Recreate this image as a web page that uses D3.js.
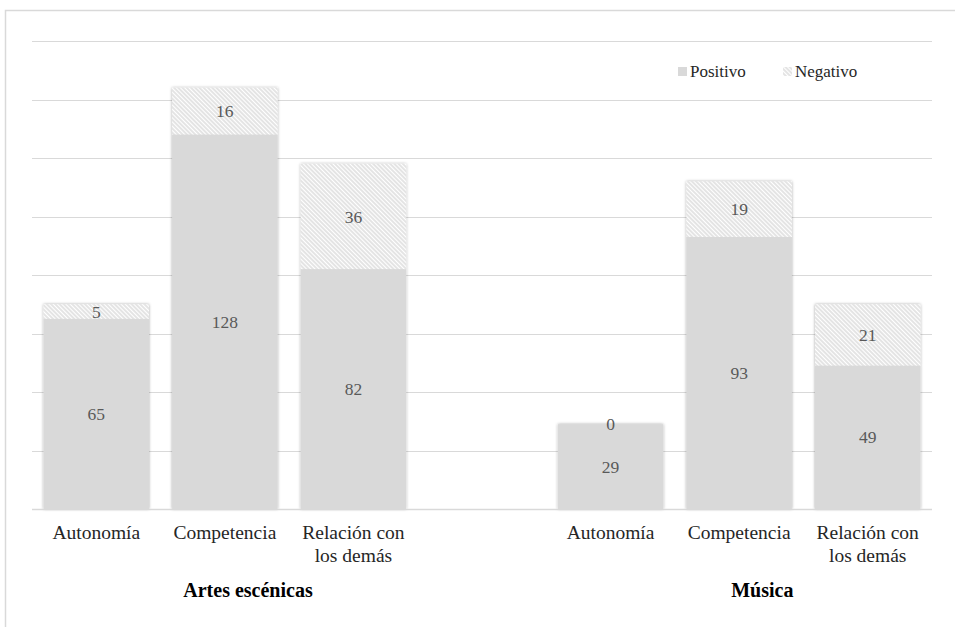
<!DOCTYPE html>
<html>
<head>
<meta charset="utf-8">
<script src="https://cdn.jsdelivr.net/npm/d3@7"></script>
</head>
<body style="margin:0">
<svg width="955" height="627"></svg>
<script>
var categories = ["Autonomía", "Competencia", "Relación con los demás"];
var groups = ["Artes escénicas", "Música"];
var positivo = [65, 128, 82, 29, 93, 49];
var negativo = [5, 16, 36, 0, 19, 21];
var yTicks = [0, 20, 40, 60, 80, 100, 120, 140, 160];
var seriesNames = ["Positivo", "Negativo"];

var FONT = "Liberation Serif";

var svg = d3.select("svg"),
    width = +svg.attr("width"),
    height = +svg.attr("height");

// slots: 3 bars, one empty slot, 3 bars
var slots = ["a0", "a1", "a2", "gap", "m0", "m1", "m2"];
var rows = [];
groups.forEach(function (g, gi) {
    categories.forEach(function (c, ci) {
        var i = gi * 3 + ci;
        rows.push({
            key: (gi == 0 ? "a" : "m") + ci,
            group: g,
            cat: c,
            pos: positivo[i],
            neg: negativo[i]
        });
    });
});

var x = d3.scaleBand().domain(slots).range([32, 932]).paddingInner(0.18).paddingOuter(0.09);
var y = d3.scaleLinear().domain([0, 160]).range([509, 41]);

function addText(size, fill) {
    return svg.append("text")
        .style("font-family", FONT)
        .style("font-size", size + "px")
        .attr("fill", fill);
}

var defs = svg.append("defs");
var pat = defs.append("pattern")
    .attr("id", "hatch")
    .attr("patternUnits", "userSpaceOnUse")
    .attr("width", 3)
    .attr("height", 3)
    .attr("patternTransform", "rotate(-45)");
pat.append("rect").attr("width", 3).attr("height", 3).attr("fill", "#fff");
pat.append("line")
    .attr("x1", 1).attr("y1", 0).attr("x2", 1).attr("y2", 3)
    .attr("stroke", "#cfcfcf").attr("stroke-width", 1.1);

var shadow = defs.append("filter").attr("id", "shadow")
    .attr("x", "-10%").attr("y", "-10%").attr("width", "120%").attr("height", "120%");
shadow.append("feDropShadow")
    .attr("dx", 0).attr("dy", 0).attr("stdDeviation", 1.6)
    .attr("flood-color", "#000").attr("flood-opacity", 0.35);

// chart frame
svg.append("rect")
    .attr("x", 5.5).attr("y", 10.5)
    .attr("width", 1000).attr("height", 700)
    .attr("fill", "none").attr("stroke", "#d9d9d9").attr("stroke-width", 1.5);

// gridlines
svg.append("g").selectAll("line")
    .data(yTicks)
    .enter().append("line")
    .attr("x1", 32).attr("x2", 932)
    .attr("y1", function (d) { return Math.round(y(d)) + 0.5; })
    .attr("y2", function (d) { return Math.round(y(d)) + 0.5; })
    .attr("stroke", "#d9d9d9")
    .attr("stroke-width", 1);

// bars
var bar = svg.append("g").selectAll(".bar")
    .data(rows)
    .enter().append("g")
    .attr("class", "bar")
    .attr("filter", "url(#shadow)");

bar.append("rect")
    .attr("x", function (d) { return x(d.key); })
    .attr("width", x.bandwidth())
    .attr("y", function (d) { return y(d.pos); })
    .attr("height", function (d) { return y(0) - y(d.pos); })
    .attr("fill", "#d9d9d9");

bar.append("rect")
    .attr("x", function (d) { return x(d.key); })
    .attr("width", x.bandwidth())
    .attr("y", function (d) { return y(d.pos + d.neg); })
    .attr("height", function (d) { return y(d.pos) - y(d.pos + d.neg); })
    .attr("fill", "url(#hatch)");

// baseline
svg.append("line")
    .attr("x1", 32).attr("x2", 932)
    .attr("y1", y(0) + 0.5).attr("y2", y(0) + 0.5)
    .attr("stroke", "#d9d9d9").attr("stroke-width", 1.5);

// data labels
rows.forEach(function (d) {
    var cx = x(d.key) + x.bandwidth() / 2;
    addText(17.5, "#595959")
        .attr("text-anchor", "middle")
        .attr("x", cx)
        .attr("y", y(d.pos / 2) + 6)
        .text(d.pos);
    addText(17.5, "#595959")
        .attr("text-anchor", "middle")
        .attr("x", cx)
        .attr("y", y(d.pos + d.neg / 2) + 6)
        .text(d.neg);
});

// category labels (two lines for the long one)
rows.forEach(function (d) {
    var cx = x(d.key) + x.bandwidth() / 2;
    var words = d.cat == "Relación con los demás" ? ["Relación con", "los demás"] : [d.cat];
    words.forEach(function (w, i) {
        addText(19.5, "#262626")
            .attr("text-anchor", "middle")
            .attr("x", cx)
            .attr("y", 539 + i * 23)
            .text(w);
    });
});

// group labels
groups.forEach(function (g, gi) {
    var mid = (gi == 0 ? "a1" : "m1");
    addText(20, "#000")
        .style("font-weight", "bold")
        .attr("text-anchor", "middle")
        .attr("x", x(mid) + x.bandwidth() / 2 + x.step() * 0.18)
        .attr("y", 597)
        .text(g);
});

// legend
var legendX = [678, 783];
seriesNames.forEach(function (s, i) {
    svg.append("rect")
        .attr("x", legendX[i]).attr("y", 67)
        .attr("width", 9).attr("height", 9)
        .attr("fill", i == 0 ? "#d9d9d9" : "url(#hatch)");
    addText(17, "#262626")
        .attr("x", legendX[i] + 12).attr("y", 77)
        .text(s);
});
</script>
</body>
</html>
